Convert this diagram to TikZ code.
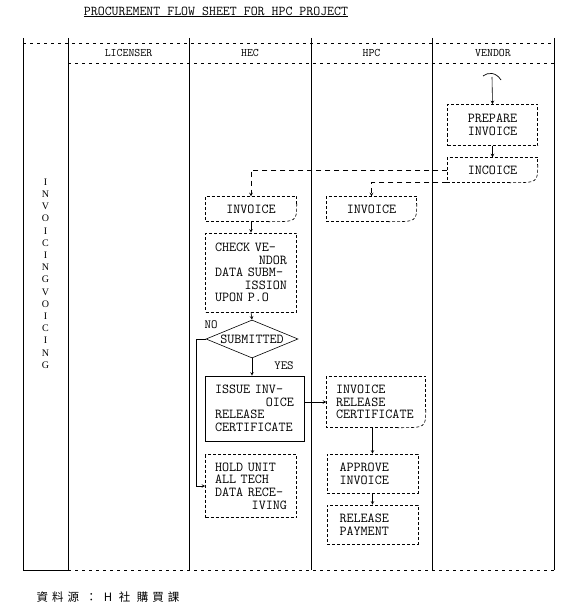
\documentclass[tikz,border=0pt]{standalone}
\usepackage{fontspec}
\setmainfont{Liberation Serif}
\newfontfamily\cjkfont[LetterSpace=35]{Noto Sans CJK TC}
\usetikzlibrary{shapes.geometric}
\usetikzlibrary{positioning}

\newcommand{\flowfont}{\ttfamily\fontsize{13.7}{12.6}\selectfont}
\newcommand{\pushright}{\hspace*{0pt plus 1fill}}
\newcommand{\docoutline}[1]{%
  \draw[docline] ([xshift=-28pt]#1.south east) -- (#1.south west) -- (#1.north west) -- (#1.north east)
    -- ([yshift=18pt]#1.south east);
  \draw[docline] ([yshift=18pt]#1.south east) .. controls (#1.south east) .. ([xshift=-28pt]#1.south east);}

\tikzset{
  lane/.style={line width=0.7pt},
  headrule/.style={line width=0.6pt, dash pattern=on 3pt off 4pt},
  head/.style={font=\ttfamily\fontsize{11.5}{12}\selectfont},
  stepbox/.style={draw, line width=0.6pt, densely dashed, font=\flowfont, inner sep=0pt},
  docbox/.style={font=\flowfont, inner sep=0pt},
  docline/.style={line width=0.6pt, densely dashed},
  flow/.style={->, line width=0.6pt},
  feed/.style={->, line width=0.6pt, dash pattern=on 5pt off 4pt},
}

\begin{document}
\begin{tikzpicture}[x=1pt,y=-1pt,>=stealth]
\useasboundingbox (0,0) rectangle (567,607);

\node[font=\ttfamily\fontsize{13.5}{14}\selectfont] (title) at (216,12) {\underline{PROCUREMENT FLOW SHEET FOR HPC PROJECT}};

% swim lanes
\foreach \x in {23,68,189,311,432,554}
  \draw[lane] (\x,38) -- (\x,570);
\draw[headrule] (23,43) -- (554,43);
\draw[headrule] (68,63) -- (554,63);
\draw[lane] (23,570) -- (68,570);
\draw[headrule] (68,570) -- (554,570);

\node[head] (licenser) at (128.5,53) {LICENSER};
\node[head] (hec) at (250,53) {HEC};
\node[head] (hpc) at (371.5,53) {HPC};
\node[head] (vendor) at (493,53) {VENDOR};

\node[font=\fontsize{10}{12.2}\selectfont, align=center] (phase) at (45.5,273.5)
  {I\\N\\V\\O\\I\\C\\I\\N\\G\\V\\O\\I\\C\\I\\N\\G};

% vendor
\coordinate (vstart) at (492,77);
\draw[line width=0.7pt] (483,76) .. controls (488,72) and (496,72) .. (501,80);
\node[stepbox, minimum width=90pt, minimum height=41pt, align=center] (prepare) at (492.5,125) {PREPARE\\INVOICE};
\node[docbox, minimum width=90pt, minimum height=25pt] (incoice) at (492.5,170) {INCOICE};
\docoutline{incoice}
\draw[flow] (vstart) -- (prepare.north);
\draw[flow] (prepare.south) -- (incoice.north);

% hec
\node[docbox, minimum width=91pt, minimum height=25pt] (hecinvoice) at (251,209) {INVOICE};
\docoutline{hecinvoice}
\node[stepbox, minimum width=91pt, minimum height=79pt, text width=72pt, align=left] (check) at (251,272.5)
  {CHECK VE-\\\pushright NDOR\\DATA SUBM-\\\pushright ISSION\\UPON P.O};
\node[diamond, draw, line width=0.6pt, aspect=2.4, minimum width=92pt, minimum height=38pt, inner sep=0pt, font=\flowfont] (submitted) at (252,339) {SUBMITTED};
\node[draw, line width=0.6pt, inner sep=0pt, minimum width=99pt, minimum height=65pt, text width=79pt, align=left, font=\flowfont] (issue) at (254.5,408.5)
  {ISSUE INV-\\\pushright OICE\hspace{14pt}\\RELEASE\\CERTIFICATE};
\node[stepbox, minimum width=91pt, minimum height=63pt, text width=72pt, align=left] (hold) at (251,486)
  {HOLD UNIT\\ALL TECH\\DATA RECE-\\\pushright IVING};
\node[font=\ttfamily\fontsize{12.5}{12}\selectfont] (no) at (211,325) {NO};
\node[font=\ttfamily\fontsize{12.5}{12}\selectfont] (yes) at (284,366) {YES};

% hpc
\node[docbox, minimum width=90pt, minimum height=25pt] (hpcinvoice) at (371.5,209) {INVOICE};
\docoutline{hpcinvoice}
\node[docbox, minimum width=99pt, minimum height=51pt, text width=80pt, align=left] (releasecert) at (376,402)
  {INVOICE\\RELEASE\\CERTIFICATE};
\docoutline{releasecert}
\node[stepbox, minimum width=91pt, minimum height=39pt, text width=66pt, align=left] (approve) at (372.5,473.5) {APPROVE\\INVOICE};
\node[stepbox, minimum width=91pt, minimum height=39pt, text width=66pt, align=left] (payment) at (372.5,524.5) {RELEASE\\PAYMENT};

% connectors
\draw[feed] (incoice.west) -| (hecinvoice.north);
\draw[feed] (incoice.south west) -| (hpcinvoice.north);
\draw[flow] (hecinvoice.south) -- (check.north);
\draw[flow] (check.south) -- (submitted.north);
\draw[flow] (submitted.south) -- (submitted.south |- issue.north);
\draw[flow] (submitted.west) -- ++(-9,0) |- (hold.west);
\draw[flow] (issue.east |- releasecert.west) -- (releasecert.west);
\draw[flow] (approve.north |- releasecert.south) -- (approve.north);
\draw[flow] (approve.south) -- (payment.north);

\node[font=\cjkfont\fontsize{11.5}{12}\selectfont, anchor=west] (source) at (33,597) {資料源 ： H 社 購買課};

\end{tikzpicture}
\end{document}
